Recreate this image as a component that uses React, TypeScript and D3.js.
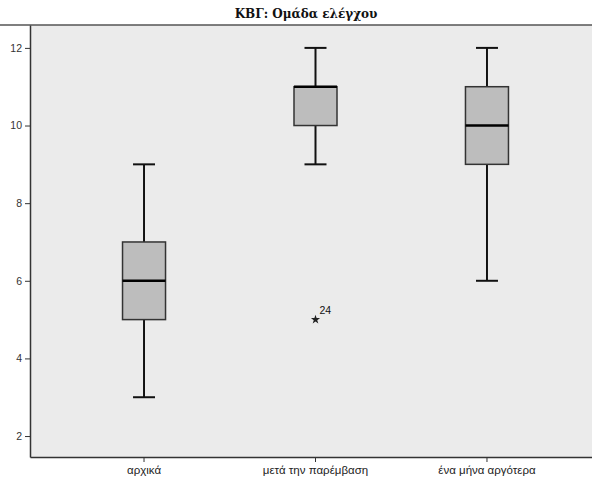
import { useEffect, useRef } from 'react'
import * as d3 from 'd3'

// box plot values
const categories = ['αρχικά', 'μετά την παρέμβαση', 'ένα μήνα αργότερα']
const mins = [3, 9, 6]
const q1s = [5, 10, 9]
const medians = [6, 11, 10]
const q3s = [7, 11, 11]
const maxs = [9, 12, 12]
const outliers = [{ cat: 'μετά την παρέμβαση', value: 5, label: '24' }]
const yTicks = [2, 4, 6, 8, 10, 12]

const title = 'ΚΒΓ: Ομάδα ελέγχου'

export default function App() {
  const svgRef = useRef<SVGSVGElement>(null)

  useEffect(() => {
    const width = 592
    const height = 477
    const marginTop = 25
    const marginLeft = 30
    const marginBottom = 20
    const plotRight = 601 // plot frame runs past the right edge of the picture

    const svg = d3.select(svgRef.current)
    svg.selectAll('*').remove()
    svg.attr('width', width).attr('height', height)

    const x = d3.scaleBand()
      .domain(categories)
      .range([marginLeft, plotRight])
      .paddingInner(0)
      .paddingOuter(0.165)
    const y = d3.scaleLinear()
      .domain([1.46, 12.59])
      .range([height - marginBottom, marginTop])

    svg.append('rect')
      .attr('width', width).attr('height', height).attr('fill', '#ffffff')

    // plot background
    svg.append('rect')
      .attr('x', marginLeft)
      .attr('y', marginTop)
      .attr('width', width - marginLeft)
      .attr('height', height - marginBottom - marginTop)
      .attr('fill', '#ebebeb')

    // title and the rule under it
    svg.append('text')
      .attr('x', 306)
      .attr('y', 18)
      .attr('text-anchor', 'middle')
      .style('font-family', '"DejaVu Serif", "Liberation Serif", serif')
      .style('font-weight', 'bold')
      .style('font-size', '12px')
      .style('fill', '#111')
      .text(title)
    svg.append('line')
      .attr('x1', 0).attr('x2', width)
      .attr('y1', marginTop).attr('y2', marginTop)
      .attr('stroke', '#555').attr('stroke-width', 1.5)

    const boxW = 43
    const capW = 22
    const data = categories.map((c, i) => ({
      cat: c, min: mins[i], q1: q1s[i], med: medians[i], q3: q3s[i], max: maxs[i],
    }))

    const g = svg.append('g')
    const cx = (c: string) => (x(c) ?? 0) + x.bandwidth() / 2

    // whiskers
    g.selectAll('line.wlow').data(data).join('line')
      .attr('x1', d => cx(d.cat)).attr('x2', d => cx(d.cat))
      .attr('y1', d => y(d.min)).attr('y2', d => y(d.q1))
      .attr('stroke', '#111').attr('stroke-width', 2)
    g.selectAll('line.whigh').data(data).join('line')
      .attr('x1', d => cx(d.cat)).attr('x2', d => cx(d.cat))
      .attr('y1', d => y(d.q3)).attr('y2', d => y(d.max))
      .attr('stroke', '#111').attr('stroke-width', 2)
    g.selectAll('line.capmin').data(data).join('line')
      .attr('x1', d => cx(d.cat) - capW / 2).attr('x2', d => cx(d.cat) + capW / 2)
      .attr('y1', d => y(d.min)).attr('y2', d => y(d.min))
      .attr('stroke', '#111').attr('stroke-width', 2)
    g.selectAll('line.capmax').data(data).join('line')
      .attr('x1', d => cx(d.cat) - capW / 2).attr('x2', d => cx(d.cat) + capW / 2)
      .attr('y1', d => y(d.max)).attr('y2', d => y(d.max))
      .attr('stroke', '#111').attr('stroke-width', 2)

    // boxes
    g.selectAll('rect.box').data(data).join('rect')
      .attr('x', d => cx(d.cat) - boxW / 2)
      .attr('y', d => y(d.q3))
      .attr('width', boxW)
      .attr('height', d => y(d.q1) - y(d.q3))
      .attr('fill', '#bdbdbd')
      .attr('stroke', '#333').attr('stroke-width', 1.5)

    // medians
    g.selectAll('line.med').data(data).join('line')
      .attr('x1', d => cx(d.cat) - boxW / 2).attr('x2', d => cx(d.cat) + boxW / 2)
      .attr('y1', d => y(d.med)).attr('y2', d => y(d.med))
      .attr('stroke', '#000').attr('stroke-width', 2.5)

    // outliers (extreme: star)
    const star = d3.symbol().type(d3.symbolStar).size(26)
    g.selectAll('path.out').data(outliers).join('path')
      .attr('d', star)
      .attr('transform', d => `translate(${cx(d.cat)},${y(d.value)})`)
      .attr('fill', '#222')
    g.selectAll('text.out').data(outliers).join('text')
      .attr('x', d => cx(d.cat) + 4)
      .attr('y', d => y(d.value) - 6)
      .style('font-family', 'Arial, "Liberation Sans", sans-serif')
      .style('font-size', '10.5px')
      .style('fill', '#111')
      .text(d => d.label)

    // y axis
    const yAxis = svg.append('g')
      .attr('transform', `translate(${marginLeft},0)`)
      .call(d3.axisLeft(y).tickValues(yTicks).tickSize(5).tickSizeOuter(0).tickPadding(3))
    yAxis.select('.domain').attr('stroke', '#333').attr('stroke-width', 1.5)
    yAxis.selectAll('line').attr('stroke', '#333')
    yAxis.selectAll('text')
      .style('font-family', 'Arial, "Liberation Sans", sans-serif')
      .style('font-size', '10.5px')
      .style('fill', '#333')

    // x axis
    const xAxis = svg.append('g')
      .attr('transform', `translate(0,${height - marginBottom})`)
      .call(d3.axisBottom(x).tickSize(5).tickSizeOuter(0).tickPadding(4))
    xAxis.select('.domain').attr('stroke', '#333').attr('stroke-width', 1.5)
    xAxis.selectAll('line').attr('stroke', '#333')
    xAxis.selectAll('text')
      .style('font-family', 'Arial, "Liberation Sans", sans-serif')
      .style('font-size', '11.5px')
      .style('fill', '#222')
  }, [])

  return (
    <div style={{ position: 'absolute', left: 0, top: 0 }}>
      <svg ref={svgRef}></svg>
    </div>
  )
}
